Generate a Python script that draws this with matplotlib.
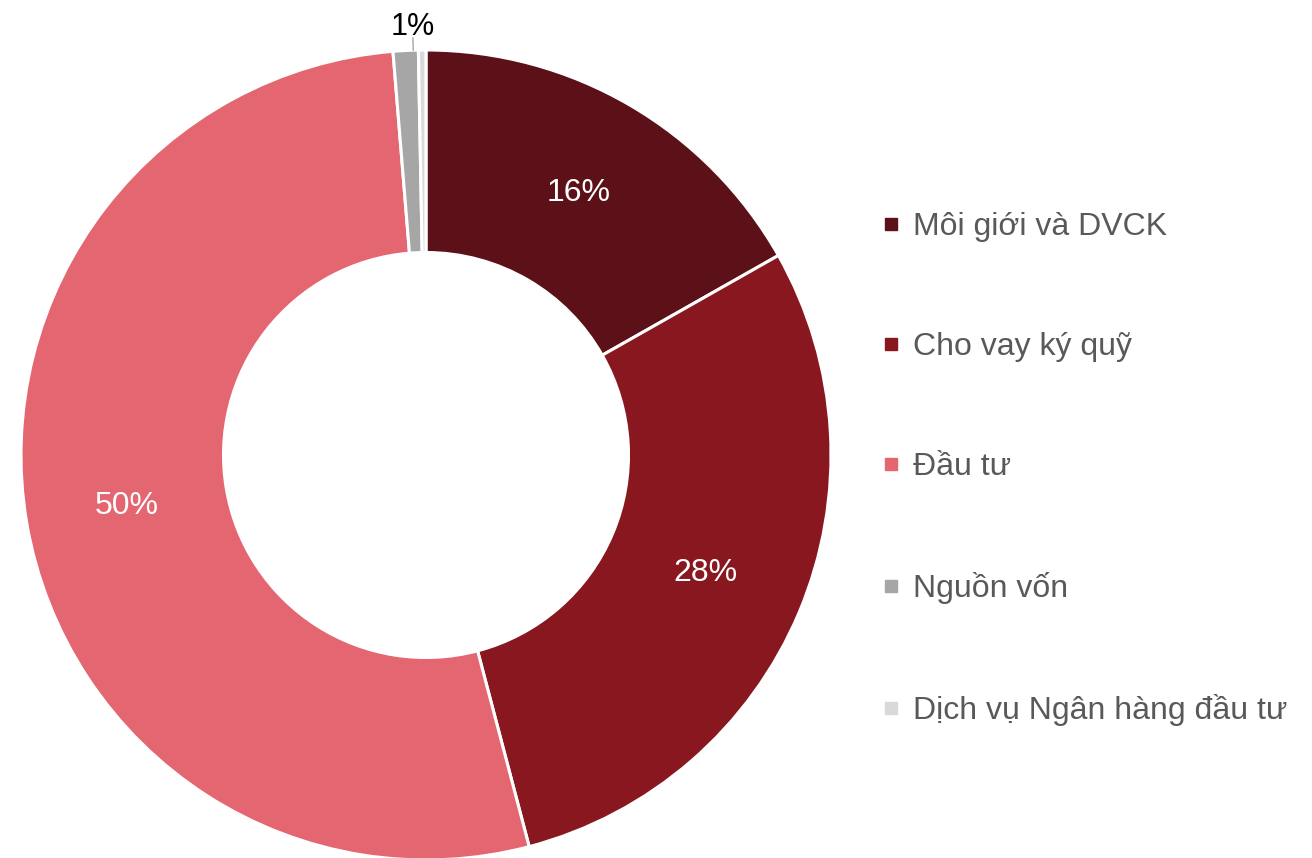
import numpy as np
import matplotlib
matplotlib.use("Agg")
from matplotlib import pyplot as plt
from matplotlib.lines import Line2D

plt.rcParams['font.family'] = ['Liberation Sans', 'DejaVu Sans']

# data
categories = ["Môi giới và DVCK", "Cho vay ký quỹ", "Đầu tư", "Nguồn vốn", "Dịch vụ Ngân hàng đầu tư"]
shares = [16.8, 29.1, 52.8, 1.0, 0.3]
pct_labels = ["16%", "28%", "50%", "1%", ""]
colors = ['#5C1017', '#89171F', '#E46670', '#A6A6A6', '#D9D9D9']

W, H = 1312, 858
fig = plt.figure(figsize=(W / 100, H / 100), dpi=100)

# donut centre and radius in pixels
cx, cy, R = 426, 455, 405
ax = fig.add_axes([(cx - R) / W, (H - cy - R) / H, 2 * R / W, 2 * R / H])

wedges, _ = ax.pie(shares, colors=colors, startangle=90, counterclock=False,
                   radius=1, frame=True,
                   wedgeprops=dict(width=0.5, edgecolor='white', linewidth=2.2))
ax.set_xlim(-1, 1)
ax.set_ylim(-1, 1)
ax.axis('off')

for i, w in enumerate(wedges):
    if not pct_labels[i]:
        continue
    if shares[i] > 5:
        mid = np.deg2rad((w.theta1 + w.theta2) / 2)
        ax.text(0.75 * np.cos(mid), 0.75 * np.sin(mid), pct_labels[i],
                color='white', fontsize=23, ha='center', va='center')
    else:
        # small slice: label outside with a short leader line
        ang = np.deg2rad(w.theta1 + 0.2 * (w.theta2 - w.theta1))
        x0, y0 = np.cos(ang), np.sin(ang)
        ax.plot([x0, x0 * 1.03], [y0, y0 * 1.03], color='#A6A6A6', lw=1, clip_on=False)
        ax.text(x0 * 1.037, y0 * 1.037, pct_labels[i], color='black', fontsize=22,
                ha='center', va='baseline', clip_on=False)

handles = [Line2D([], [], marker='s', linestyle='none', markersize=8.5,
                  markerfacecolor=c, markeredgecolor=c) for c in colors]
fig.legend(handles, categories, loc='center left', bbox_to_anchor=(878 / W, 1 - 469 / H),
           frameon=False, fontsize=23, labelspacing=2.82, handlelength=0.8,
           handletextpad=0.3, borderpad=0, borderaxespad=0, labelcolor='#595959')

fig.savefig('out.png', dpi=100)
